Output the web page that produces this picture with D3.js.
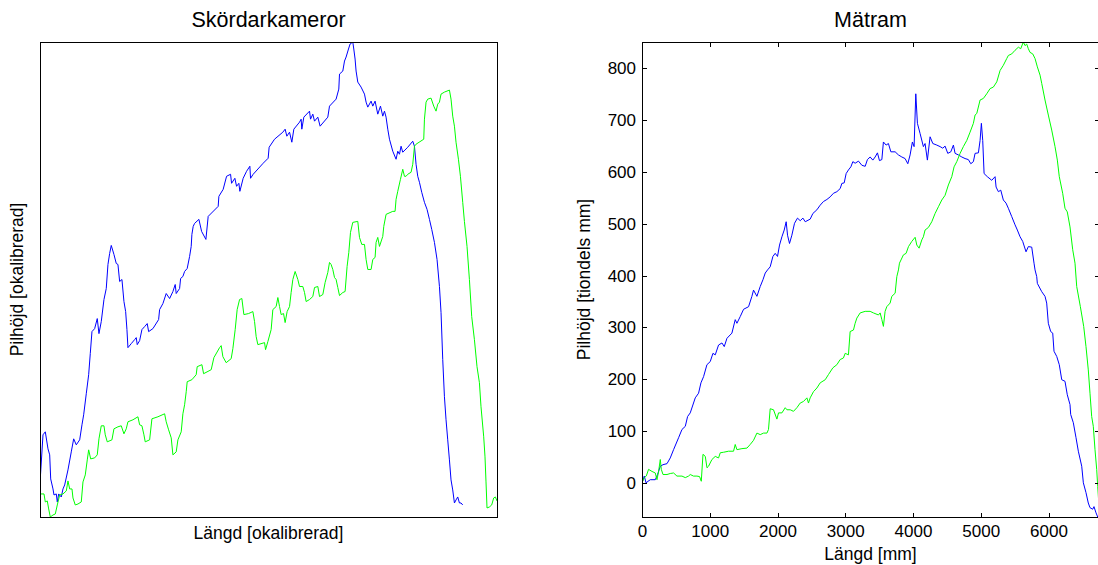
<!DOCTYPE html>
<html>
<head>
<meta charset="utf-8">
<script src="https://cdn.jsdelivr.net/npm/d3@7/dist/d3.min.js"></script>
<style>
  html, body { margin: 0; padding: 0; background: #fff; }
  svg { display: block; font-family: "Liberation Sans", Arial, sans-serif; }
  .tick text { font-size: 17px; fill: #000; }
  .tick line { stroke: #000; }
</style>
</head>
<body>
<svg id="fig" width="1098" height="565"></svg>
<script>
// Camera-based pile height profile (uncalibrated units), two cameras
const camBlue = [[0,15],[0.5,44],[3,84],[5.3,87],[8,70],[9.7,64],[10.7,40],[13,30],[14,24],[16.3,25],[17.3,17],[18.7,25],[21.3,22],[23,30],[24.7,34],[28,49],[31.3,67],[33.7,80],[36.3,74],[39.7,79],[42,94],[43.7,104],[46.3,125],[48.7,144],[50.3,165],[52,187],[54.7,190],[57.3,200],[59,185],[61.3,197],[64,219],[66.3,230],[68,254],[69.7,265],[71.3,273],[74,264],[76.3,255],[78,254],[79.7,237],[82,239],[84,217],[85.7,207],[87,189],[88,171],[91.3,175],[94.7,179],[96.3,181],[97.3,174],[99.7,178],[102,189],[104.7,192],[107.3,195],[108.7,187],[113,190],[118.7,199],[119.7,209],[123,215],[126.3,225],[129.7,220],[133,227],[135.3,234],[136.3,225],[139.7,230],[140.7,240],[143,242],[144.7,247],[147.3,250],[149.7,262],[151.3,272],[152,284],[153.3,292],[154.7,295],[159,299],[161.7,287],[166,279],[168.3,302],[178.3,312],[179,322],[183.3,329],[186.7,342],[190.7,344],[191.7,335],[195,340],[196.7,332],[199,335],[200,327],[203.3,340],[206.7,347],[210,352],[210.7,340],[213.3,344],[223.3,355],[228.3,360],[229.3,371],[234.7,379],[243,386],[245.3,389],[247,382],[249.7,386],[252,376],[254,389],[259.7,396],[261.3,399],[262,389],[264,401],[269.7,407],[270.7,399],[273,404],[274.7,397],[278,401],[280.3,392],[288,401],[289.7,412],[296.3,419],[299,429],[299.7,444],[303,447],[304.7,457],[306.3,461],[308.7,469],[310.3,474],[313,476],[314,469],[315.3,459],[316.3,447],[318,436],[321.3,431],[324.7,424],[326.3,416],[328,411],[331.3,417],[333,412],[335.3,417],[338,404],[340.7,412],[343,402],[344.7,407],[346.3,401],[348,389],[349.7,379],[353,367],[356.3,359],[358,367],[359.7,364],[361.3,372],[363,366],[368,371],[373,377],[374.7,372],[376.3,354],[378,342],[379.7,336],[382,326],[384.7,316],[387.3,309],[389.7,299],[392,289],[394.7,276],[397.3,259],[399.7,232],[401.3,206],[403,159],[404.7,122],[406.3,99],[408,79],[409.7,59],[411.3,39],[413,29],[414.7,16],[416.3,19],[418,22],[419.7,16],[421.3,16],[423,14]];

const camGreen = [[0,25],[4,25],[5.3,17],[7.3,18],[8.7,10],[10.3,2],[13,4],[15.3,5],[17.3,14],[19.7,24],[23,25],[26.3,28],[28,38],[29.7,30],[32,30],[33,21],[35.3,14],[38,15],[41.3,17],[43,37],[45.3,44],[47.3,59],[48.7,69],[50.7,60],[54.7,61],[57.3,64],[59,80],[61.3,93],[64,93],[65.3,84],[67.3,77],[72,79],[74,90],[78,92],[81.3,93],[84,85],[86.3,90],[88,97],[93,99],[98,102],[99.7,94],[102,93],[104,84],[105.3,77],[109.7,79],[112,100],[118,102],[124.7,105],[126.3,97],[128.7,89],[131.3,81],[133,64],[136.3,67],[138,79],[141.3,87],[143,105],[144.7,114],[146.3,127],[147.3,137],[152,139],[156.3,144],[157.3,152],[162,154],[163.7,145],[171.3,149],[174,161],[179.7,171],[181.3,173],[183,162],[186.3,156],[191.3,160],[193,170],[195.3,189],[197.3,209],[199.7,219],[202,220],[204,204],[208.7,205],[213,207],[214.7,197],[216.3,182],[218,174],[224.7,176],[225.7,169],[228,177],[231.3,189],[233,209],[236.3,212],[238,221],[239.7,212],[241.3,204],[243.7,205],[245.3,196],[247.3,207],[249.7,212],[251.3,226],[253,239],[255.3,247],[258,239],[259.7,232],[263,232],[264.7,226],[266.3,217],[269.7,219],[273,222],[274.7,231],[278,232],[279.7,222],[283,224],[285.3,236],[288,246],[289.7,256],[291.3,254],[293,249],[294.7,241],[296.3,239],[298,231],[299.7,223],[303,226],[305.3,227],[307.3,252],[309,266],[310.7,286],[313,296],[318,297],[319.7,281],[322,274],[324.7,274],[326.3,259],[328,249],[331.3,249],[333,259],[335.3,261],[336.3,276],[338,281],[339.7,272],[343,282],[344,292],[346.3,304],[353,307],[355.3,307],[356.3,319],[358,327],[360.7,339],[363,349],[364.7,342],[366.3,342],[368,344],[371.3,346],[373,354],[374.7,372],[376.3,374],[384,379],[384.7,399],[386.3,416],[388,419],[391.3,420],[394,412],[396.3,407],[398,414],[399.7,416],[401.3,424],[404.7,426],[409.7,428],[411.3,419],[413,402],[414.7,392],[416.3,376],[418.7,359],[420.7,342],[423,316],[424.7,297],[427.3,272],[429.7,239],[432,202],[434.7,179],[437.3,152],[439.7,136],[441.3,112],[444,82],[445.3,62],[446.3,37],[447.3,11],[449.7,12],[452,14],[454,21],[455.7,22],[457.3,18]];

// Measuring frame profile: length [mm], height [tenths of mm]
const frameBlue = [[0,0],[34,13],[59,0],[122,6],[196,6],[230,16],[270,32],[310,35],[369,37],[417,48],[466,64],[540,87],[590,103],[639,109],[673,128],[712,135],[786,164],[835,173],[870,193],[909,205],[958,228],[1007,234],[1047,250],[1081,247],[1130,266],[1180,270],[1214,263],[1254,279],[1327,289],[1376,315],[1401,308],[1450,321],[1499,335],[1573,340],[1622,360],[1646,372],[1696,360],[1745,379],[1785,392],[1819,405],[1853,411],[1892,417],[1932,437],[1966,443],[2000,437],[2030,459],[2065,475],[2099,488],[2128,504],[2148,478],[2177,462],[2212,478],[2251,501],[2295,511],[2335,506],[2375,511],[2409,504],[2482,509],[2522,520],[2581,527],[2630,536],[2678,543],[2729,547],[2777,552],[2826,559],[2876,562],[2925,568],[2950,578],[2984,579],[3013,597],[3047,604],[3083,610],[3112,620],[3146,617],[3195,621],[3245,613],[3294,611],[3327,624],[3367,629],[3407,623],[3441,629],[3475,637],[3505,622],[3540,624],[3563,658],[3603,652],[3637,655],[3673,639],[3736,639],[3785,633],[3835,629],[3883,626],[3923,616],[3957,633],[3991,658],[4016,649],[4041,751],[4065,694],[4105,674],[4153,649],[4178,655],[4212,623],[4252,668],[4292,655],[4351,652],[4400,649],[4439,646],[4473,650],[4513,636],[4558,639],[4596,652],[4621,636],[4670,633],[4720,629],[4768,626],[4817,624],[4853,616],[4891,620],[4916,636],[4965,637],[4990,661],[5009,694],[5029,661],[5049,597],[5097,591],[5162,584],[5211,591],[5226,571],[5260,562],[5295,565],[5333,546],[5373,540],[5407,530],[5457,514],[5506,498],[5540,488],[5580,475],[5619,466],[5668,446],[5702,456],[5752,455],[5786,424],[5801,411],[5826,398],[5835,385],[5900,369],[5948,360],[5973,347],[5997,308],[6032,292],[6062,289],[6081,254],[6121,244],[6159,228],[6195,199],[6243,196],[6277,170],[6317,151],[6327,132],[6366,116],[6406,87],[6440,61],[6490,32],[6514,0],[6553,-19],[6587,-39],[6612,-48],[6652,-51],[6671,-46],[6701,-58],[6726,-66]];

const frameGreen = [[0,0],[34,10],[63,13],[97,26],[147,22],[196,19],[221,6],[245,22],[270,45],[285,26],[310,16],[369,16],[417,18],[466,19],[516,13],[590,13],[639,10],[687,13],[712,16],[761,13],[811,13],[850,12],[875,3],[900,55],[934,51],[959,29],[982,32],[1032,45],[1081,51],[1130,48],[1155,58],[1204,59],[1277,61],[1351,61],[1376,74],[1401,64],[1475,66],[1549,67],[1597,74],[1646,82],[1696,96],[1745,93],[1794,96],[1844,96],[1867,103],[1892,143],[1941,141],[1991,123],[2015,135],[2065,135],[2114,145],[2139,141],[2188,141],[2236,138],[2286,145],[2335,154],[2383,157],[2434,164],[2457,154],[2482,164],[2531,176],[2581,183],[2630,193],[2704,199],[2752,209],[2817,222],[2876,228],[2925,238],[2973,241],[2999,250],[3047,247],[3072,292],[3121,295],[3146,308],[3171,318],[3220,328],[3294,331],[3367,331],[3416,328],[3490,324],[3515,328],[3540,315],[3563,302],[3588,331],[3613,340],[3662,347],[3687,360],[3736,366],[3761,398],[3785,411],[3800,424],[3858,440],[3898,443],[3933,456],[3982,466],[4031,474],[4056,459],[4090,453],[4130,469],[4153,475],[4178,488],[4227,493],[4277,504],[4326,520],[4375,533],[4425,546],[4473,555],[4522,575],[4572,591],[4606,610],[4646,620],[4695,636],[4743,649],[4794,661],[4842,677],[4891,694],[4916,710],[4941,713],[4990,739],[5038,742],[5088,751],[5137,761],[5186,764],[5236,774],[5285,796],[5333,806],[5383,819],[5407,825],[5457,828],[5506,835],[5555,841],[5590,838],[5628,851],[5653,844],[5678,847],[5702,838],[5727,831],[5767,828],[5801,819],[5835,803],[5875,787],[5900,771],[5948,739],[5997,710],[6047,681],[6096,649],[6130,623],[6159,591],[6209,559],[6243,530],[6277,523],[6317,494],[6357,450],[6391,424],[6416,379],[6470,340],[6519,302],[6553,263],[6587,218],[6612,173],[6637,128],[6661,109],[6686,64],[6711,26],[6726,-7],[6745,-45]];

const xTicksMm = [0, 1000, 2000, 3000, 4000, 5000, 6000];
const yTicksTenths = [0, 100, 200, 300, 400, 500, 600, 700, 800];

const titles = ["Skördarkameror", "Mätram"];
const xLabels = ["Längd [okalibrerad]", "Längd [mm]"];
const yLabels = ["Pilhöjd [okalibrerad]", "Pilhöjd [tiondels mm]"];

const svg = d3.select("#fig");

function panel(idx, box, seriesBlue, seriesGreen, opts) {
  const all = seriesBlue.concat(seriesGreen);
  const x = d3.scaleLinear()
    .domain(opts.xDomain || d3.extent(all, d => d[0]))
    .range([box.left, box.left + box.width]);
  const y = d3.scaleLinear()
    .domain(d3.extent(all, d => d[1]))
    .range([box.top + box.height, box.top]);

  const clipId = "clip" + idx;
  svg.append("clipPath").attr("id", clipId)
    .append("rect")
    .attr("x", box.left).attr("y", box.top)
    .attr("width", box.width).attr("height", box.height);

  const line = d3.line().x(d => x(d[0])).y(d => y(d[1]));
  const g = svg.append("g").attr("clip-path", `url(#${clipId})`);
  g.append("path").datum(seriesBlue)
    .attr("d", line).attr("fill", "none")
    .attr("stroke", "#0000ff").attr("stroke-width", 1);
  g.append("path").datum(seriesGreen)
    .attr("d", line).attr("fill", "none")
    .attr("stroke", "#00ff00").attr("stroke-width", 1);

  if (opts.ticks) {
    const tl = 4.5;
    const bottom = svg.append("g")
      .attr("transform", `translate(0,${box.top + box.height})`)
      .call(d3.axisBottom(x).tickValues(xTicksMm).tickSize(-tl).tickPadding(8).tickFormat(d3.format("d")));
    const top = svg.append("g")
      .attr("transform", `translate(0,${box.top})`)
      .call(d3.axisTop(x).tickValues(xTicksMm).tickSize(-tl).tickFormat(""));
    const left = svg.append("g")
      .attr("transform", `translate(${box.left},0)`)
      .call(d3.axisLeft(y).tickValues(yTicksTenths).tickSize(-tl).tickPadding(6).tickFormat(d3.format("d")));
    const right = svg.append("g")
      .attr("transform", `translate(${box.left + box.width},0)`)
      .call(d3.axisRight(y).tickValues(yTicksTenths).tickSize(-tl).tickFormat(""));
    [bottom, top, left, right].forEach(a => {
      a.select(".domain").remove();
      a.selectAll(".tick line").attr("shape-rendering", "crispEdges");
      a.selectAll(".tick text").attr("font-family", "Liberation Sans, Arial, sans-serif").attr("font-size", 17);
    });
  }

  svg.append("rect")
    .attr("x", box.left).attr("y", box.top)
    .attr("width", box.width).attr("height", box.height)
    .attr("fill", "none").attr("stroke", "#000").attr("stroke-width", 1)
    .attr("shape-rendering", "crispEdges");

  const cx = box.left + box.width / 2;
  const cy = box.top + box.height / 2;
  svg.append("text")
    .attr("x", cx).attr("y", 27)
    .attr("text-anchor", "middle").attr("font-size", 21.5)
    .text(titles[idx]);
  svg.append("text")
    .attr("x", cx).attr("y", opts.xLabelY)
    .attr("text-anchor", "middle").attr("font-size", 17.5)
    .text(xLabels[idx]);
  svg.append("text")
    .attr("transform", `translate(${opts.yLabelX},${cy}) rotate(-90)`)
    .attr("text-anchor", "middle").attr("font-size", 17.5)
    .text(yLabels[idx]);
}

panel(0, { left: 40, top: 42, width: 457, height: 475 }, camBlue, camGreen,
  { ticks: false, xLabelY: 539, yLabelX: 23 });
panel(1, { left: 642, top: 42, width: 457, height: 475 }, frameBlue, frameGreen,
  { ticks: true, xDomain: [0, 6745], xLabelY: 560, yLabelX: 590 });
</script>
</body>
</html>
